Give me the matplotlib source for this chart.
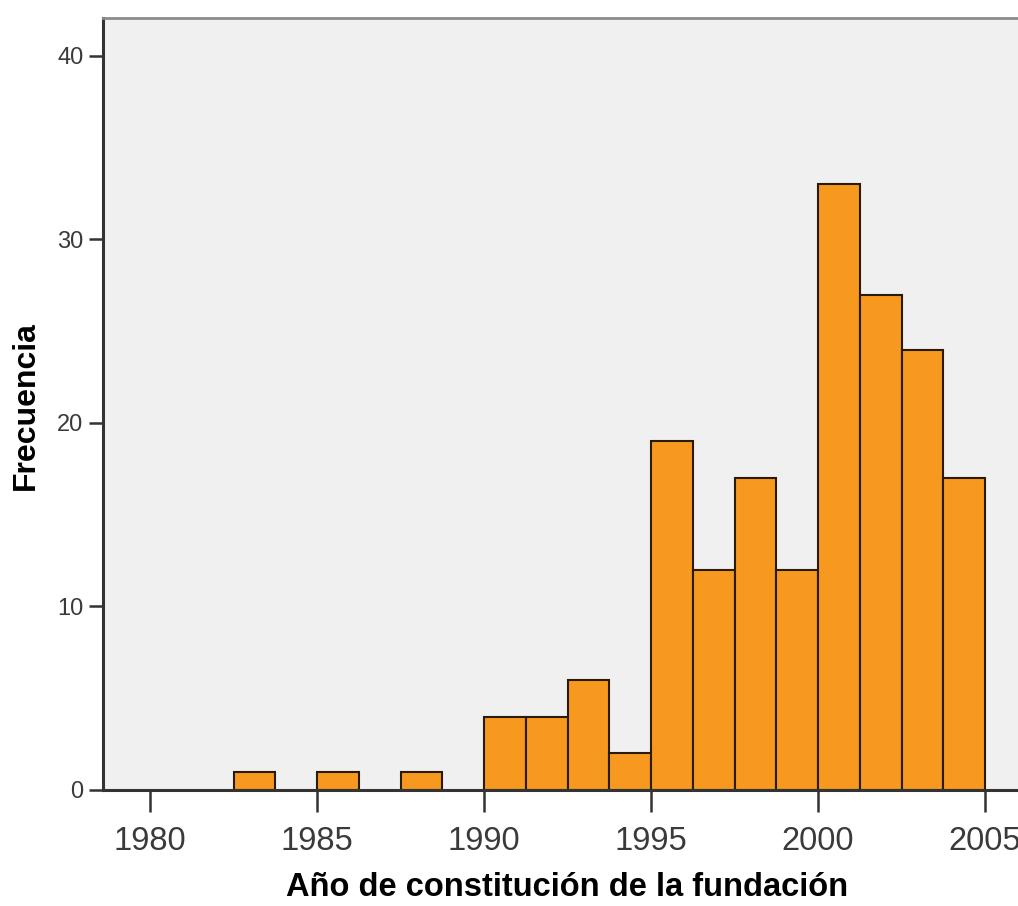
import numpy as np
import matplotlib.pyplot as plt

plt.rcParams['font.family'] = ['Liberation Sans', 'DejaVu Sans']

# histogram bins (left edges, width 1.25 years) and counts
bin_left = [1980.0, 1981.25, 1982.5, 1983.75, 1985.0, 1986.25, 1987.5, 1988.75,
            1990.0, 1991.25, 1992.5, 1993.75, 1995.0, 1996.25, 1997.5, 1998.75,
            2000.0, 2001.25, 2002.5, 2003.75]
counts = [0, 0, 1, 0, 1, 0, 1, 0,
          4, 4, 6, 2, 19, 12, 17, 12,
          33, 27, 24, 17]
bin_width = 1.25
xticks = [1980, 1985, 1990, 1995, 2000, 2005]
yticks = [0, 10, 20, 30, 40]

fig = plt.figure(figsize=(10.18, 9.06), dpi=100)
ax = fig.add_axes([103/1018, 1 - 790/906, 937/1018, (790 - 18)/906])
ax.set_facecolor('#f0f0f0')

# only draw bins with data
bl = np.array(bin_left)
cn = np.array(counts)
m = cn > 0
ax.bar(bl[m], cn[m], width=bin_width, align='edge', color='#f7991e',
       edgecolor='#2a1a0a', linewidth=1.5, zorder=2)

ax.set_xlim(1978.59, 1978.59 + 937/33.4)
ax.set_ylim(0, 42.07)
ax.set_xticks(xticks)
ax.set_yticks(yticks)

ax.spines['right'].set_visible(False)
ax.spines['top'].set_color('#8c8c8c')
ax.spines['top'].set_linewidth(2)
ax.spines['left'].set_color('#333333')
ax.spines['left'].set_linewidth(2.2)
ax.spines['bottom'].set_color('#333333')
ax.spines['bottom'].set_linewidth(2.2)
ax.spines['bottom'].set_zorder(3)

ax.tick_params(axis='x', direction='out', length=16, width=1.8, color='#333333',
               labelsize=23.5, labelcolor='#3a3a3a', pad=10)
ax.tick_params(axis='y', direction='out', length=10, width=1.8, color='#333333',
               labelsize=17, labelcolor='#3a3a3a', pad=4)

# axis titles
fig.text(567/1018, 1 - 887/906, 'Año de constitución de la fundación',
         fontsize=23.5, fontweight='bold', ha='center', va='center')
fig.text(26/1018, 1 - 406/906, 'Frecuencia', fontsize=23, fontweight='bold',
         rotation=90, ha='center', va='center')

fig.savefig('out.png', dpi=100)
